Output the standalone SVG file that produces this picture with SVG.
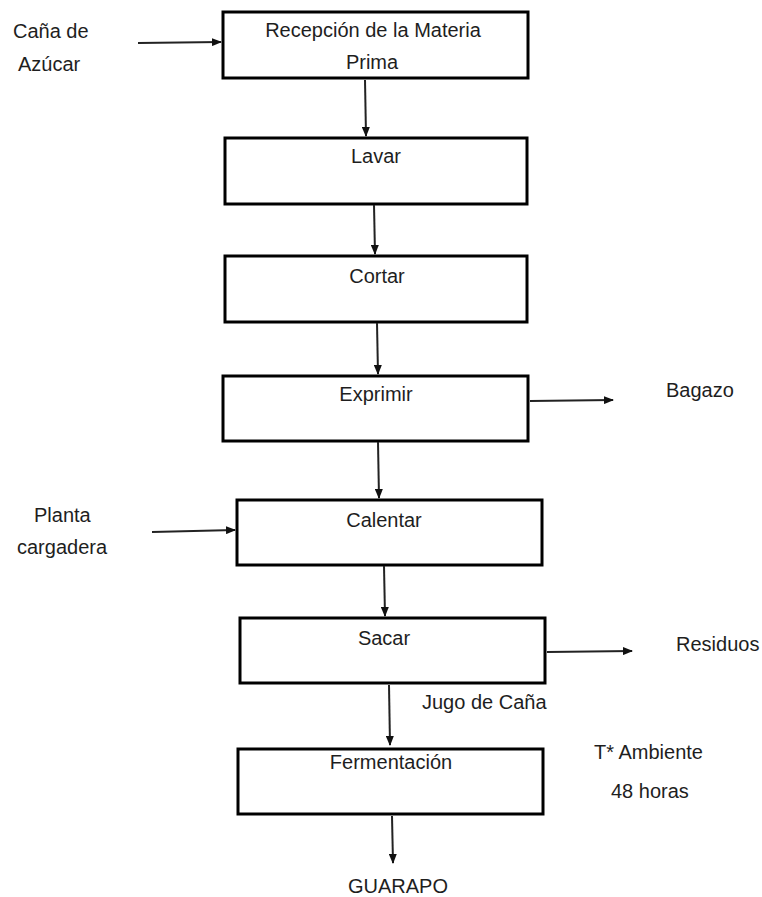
<svg xmlns="http://www.w3.org/2000/svg" width="762" height="897" viewBox="0 0 762 897">
<style>
.box{fill:#fff;stroke:#000;stroke-width:3}
.t{font-family:"Liberation Sans",Arial,sans-serif;font-size:20px;fill:#1e1e1e}
.c{text-anchor:middle}
.ln{stroke:#222;stroke-width:2;fill:none;marker-end:url(#ah)}
</style>
<defs>
<marker id="ah" markerWidth="10" markerHeight="8" refX="9" refY="4" orient="auto" markerUnits="userSpaceOnUse">
<path d="M0,0 L10,4 L0,8 Z" fill="#111"/>
</marker>
</defs>
<rect width="762" height="897" fill="#fff"/>
<g id="n1"><rect class="box" x="223" y="12" width="305" height="66"/>
<text class="t c" x="373" y="37">Recepción de la Materia</text>
<text class="t c" x="372" y="69">Prima</text></g>
<g id="n2"><rect class="box" x="225" y="138" width="302" height="66"/>
<text class="t c" x="376" y="163">Lavar</text></g>
<g id="n3"><rect class="box" x="225" y="256" width="302" height="66"/>
<text class="t c" x="377" y="283">Cortar</text></g>
<g id="n4"><rect class="box" x="223" y="376" width="305" height="65"/>
<text class="t c" x="376" y="401">Exprimir</text></g>
<g id="n5"><rect class="box" x="237" y="500" width="305" height="65"/>
<text class="t c" x="384" y="527">Calentar</text></g>
<g id="n6"><rect class="box" x="240" y="618" width="305" height="65"/>
<text class="t c" x="384" y="645">Sacar</text></g>
<g id="n7"><rect class="box" x="238" y="749" width="305" height="65"/>
<text class="t c" x="391" y="769">Fermentación</text></g>
<g id="labels">
<text class="t" x="13" y="38">Caña de</text>
<text class="t" x="18" y="71">Azúcar</text>
<text class="t" x="666" y="397">Bagazo</text>
<text class="t" x="34" y="522">Planta</text>
<text class="t" x="17" y="554">cargadera</text>
<text class="t" x="676" y="651">Residuos</text>
<text class="t" x="422" y="709">Jugo de Caña</text>
<text class="t" x="594" y="759">T* Ambiente</text>
<text class="t" x="611" y="798">48 horas</text>
<text class="t c" x="398" y="893">GUARAPO</text>
</g>
<g id="connectors">
<line class="ln" x1="138" y1="43" x2="221" y2="42"/>
<line class="ln" x1="365" y1="80" x2="366" y2="136"/>
<line class="ln" x1="374" y1="205" x2="375" y2="254"/>
<line class="ln" x1="377" y1="323" x2="378" y2="374"/>
<line class="ln" x1="530" y1="401" x2="613" y2="400"/>
<line class="ln" x1="378" y1="442" x2="379" y2="498"/>
<line class="ln" x1="152" y1="532" x2="235" y2="530"/>
<line class="ln" x1="384" y1="566" x2="385" y2="616"/>
<line class="ln" x1="547" y1="652" x2="632" y2="651"/>
<line class="ln" x1="389" y1="685" x2="390" y2="745"/>
<line class="ln" x1="392" y1="816" x2="393" y2="863"/>
</g>
</svg>
